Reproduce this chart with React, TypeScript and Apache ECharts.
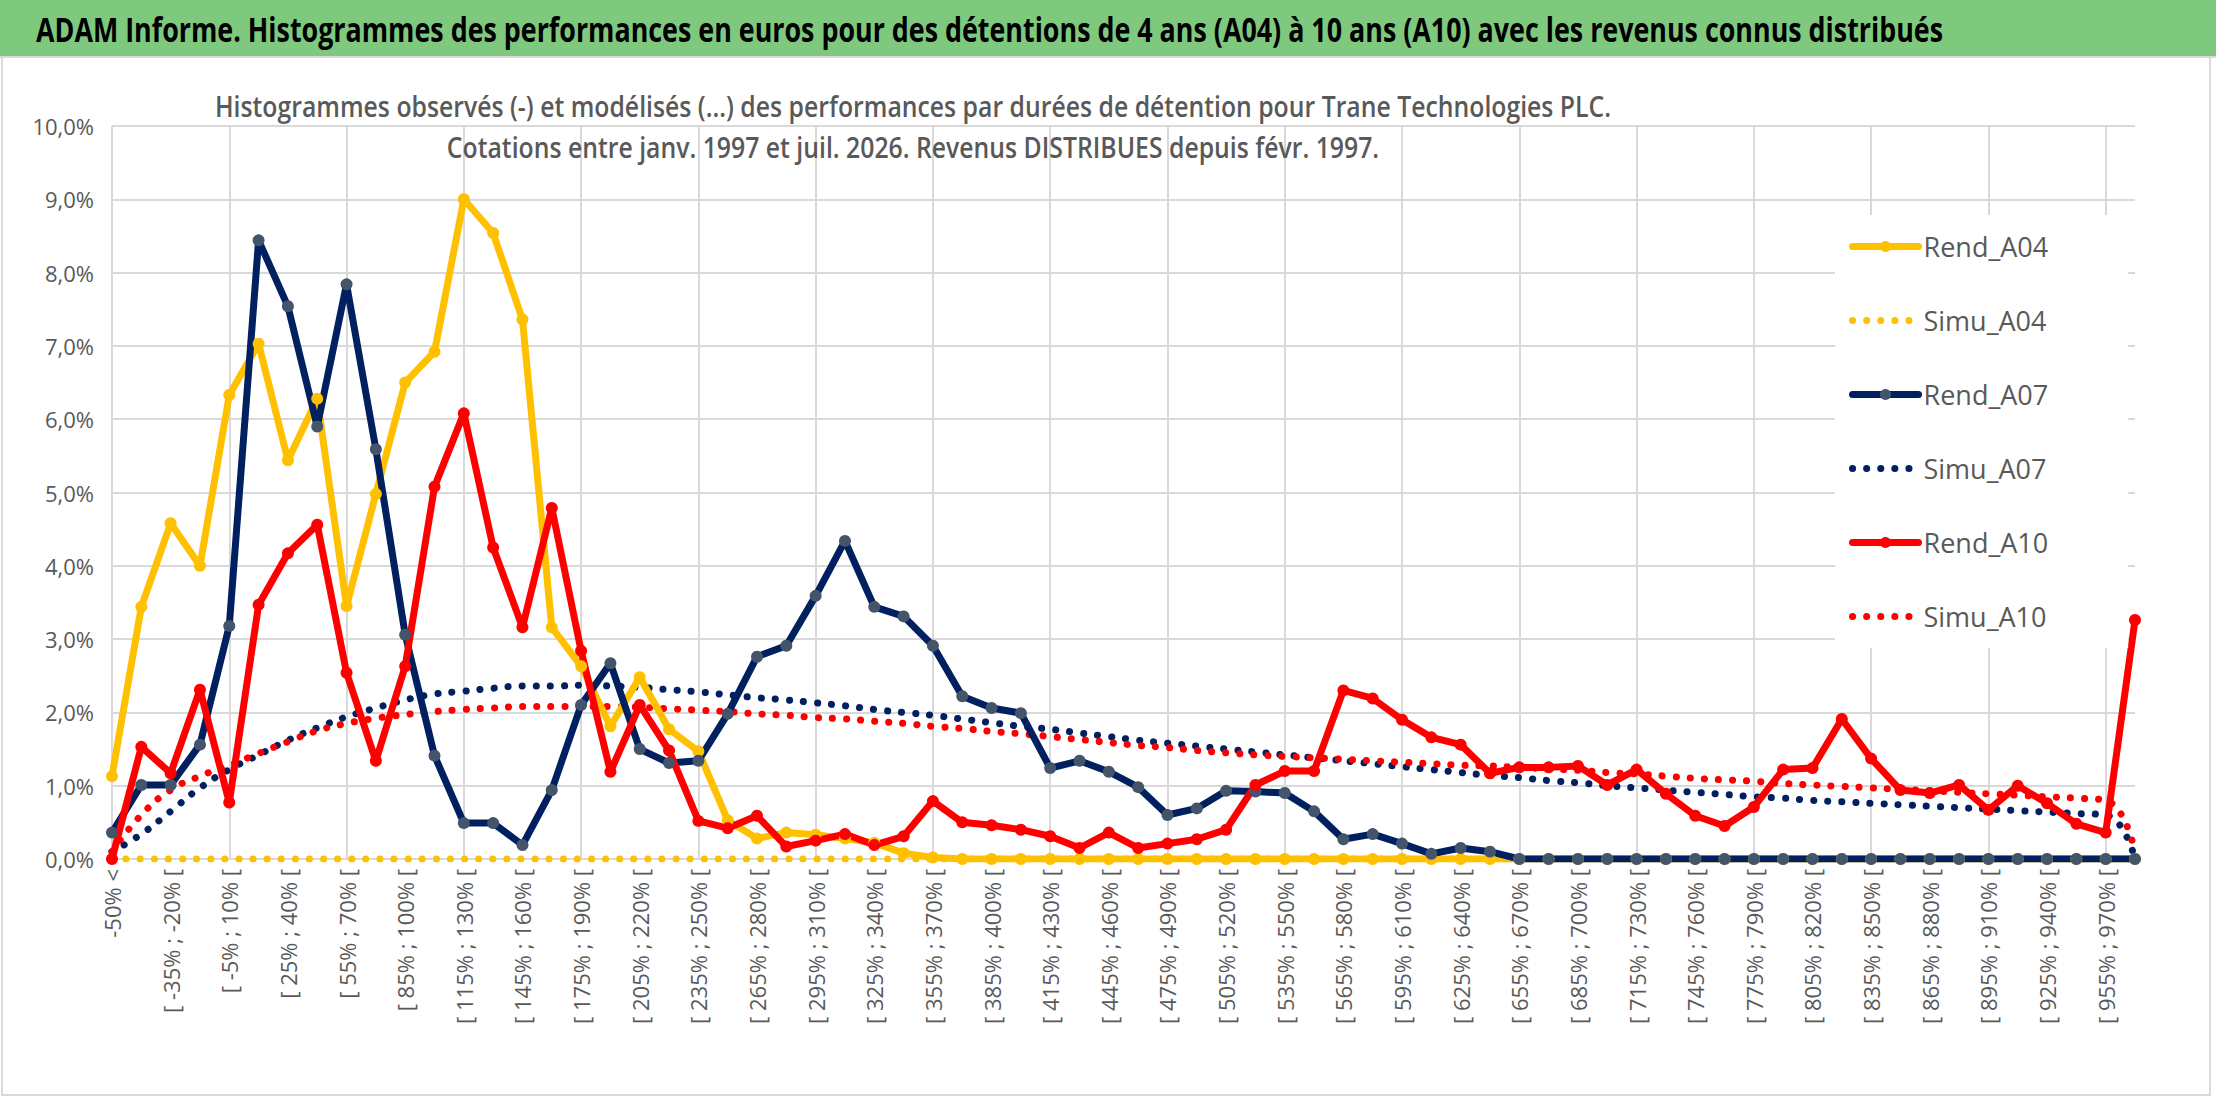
import React, { useEffect, useRef } from "react";
import * as echarts from "echarts";

const lowerBounds: number[] = [-50, -35, -20, -5, 10, 25, 40, 55, 70, 85, 100, 115, 130, 145, 160, 175, 190, 205, 220, 235, 250, 265, 280, 295, 310, 325, 340, 355, 370, 385, 400, 415, 430, 445, 460, 475, 490, 505, 520, 535, 550, 565, 580, 595, 610, 625, 640, 655, 670, 685, 700, 715, 730, 745, 760, 775, 790, 805, 820, 835, 850, 865, 880, 895, 910, 925, 940, 955, 970];
const categories: string[] = ["-50% <", ...lowerBounds.map((s) => `[ ${s}% ; ${s + 15}% [`)];

const rendA04 = [1.13, 3.44, 4.58, 4.0, 6.33, 7.03, 5.44, 6.28, 3.45, 4.98, 6.5, 6.92, 9.0, 8.54, 7.36, 3.16, 2.63, 1.81, 2.48, 1.77, 1.47, 0.53, 0.28, 0.36, 0.33, 0.28, 0.22, 0.08, 0.02,
  0, 0, 0, 0, 0, 0, 0, 0, 0, 0, 0, 0, 0, 0, 0, 0, 0, 0, 0, 0, 0, 0, 0, 0, 0, 0, 0, 0, 0, 0, 0, 0, 0, 0, 0, 0, 0, 0, 0, 0, 0];
const simuA04 = [0, 0, 0, 0, 0, 0, 0, 0, 0, 0, 0, 0, 0, 0, 0, 0, 0, 0, 0, 0, 0, 0, 0, 0, 0, 0, 0, 0, 0, 0, 0, 0, 0, 0, 0, 0, 0, 0, 0, 0, 0, 0, 0, 0, 0, 0, 0, 0, 0, 0, 0, 0, 0, 0, 0, 0, 0, 0, 0, 0, 0, 0, 0, 0, 0, 0, 0, 0, 0, 0];
const rendA07 = [0.36, 1.01, 1.01, 1.56, 3.18, 8.44, 7.54, 5.9, 7.84, 5.59, 3.06, 1.41, 0.49, 0.49, 0.19, 0.94, 2.1,
  2.67, 1.5, 1.31, 1.34, 1.98, 2.76, 2.91, 3.59, 4.34, 3.44, 3.31, 2.91, 2.22, 2.06, 1.99,
  1.24, 1.34, 1.19, 0.98, 0.6, 0.69, 0.93, 0.92, 0.9, 0.65, 0.27, 0.34, 0.21, 0.07, 0.15, 0.1,
  0, 0, 0, 0, 0, 0, 0, 0, 0, 0, 0, 0, 0, 0, 0, 0, 0, 0, 0, 0, 0, 0];
const simuA07 = [0.1, 0.34, 0.65, 0.97, 1.22, 1.42, 1.62, 1.79, 1.94, 2.06, 2.17, 2.25, 2.29, 2.33, 2.36, 2.36, 2.37, 2.36, 2.34, 2.31, 2.28, 2.24, 2.2, 2.17, 2.13, 2.09, 2.04, 2.0, 1.96, 1.91, 1.86, 1.81, 1.77, 1.72, 1.67, 1.62, 1.58, 1.54, 1.5, 1.46, 1.42, 1.38, 1.34, 1.3, 1.26, 1.22, 1.18, 1.14, 1.11, 1.07, 1.04, 1.0, 0.97, 0.94, 0.91, 0.88, 0.85, 0.83, 0.8, 0.78, 0.76, 0.74, 0.72, 0.7, 0.68, 0.66, 0.64, 0.62, 0.6, 0.0];
const rendA10 = [0, 1.53, 1.17, 2.31, 0.77, 3.47, 4.17, 4.56, 2.54, 1.34, 2.63, 5.08, 6.08, 4.25, 3.16, 4.79, 2.84,
  1.19, 2.1, 1.48, 0.52, 0.42, 0.59, 0.17, 0.25, 0.34, 0.19, 0.31, 0.79, 0.5, 0.46, 0.4,
  0.31, 0.15, 0.36, 0.15, 0.21, 0.27, 0.4, 1.01, 1.2, 1.2, 2.3, 2.19, 1.9, 1.66, 1.56, 1.17, 1.25, 1.25, 1.27,
  1.01, 1.22, 0.89, 0.59, 0.45, 0.71, 1.22, 1.24, 1.91, 1.37, 0.94, 0.9, 1.01, 0.67, 1.0, 0.76, 0.48, 0.36, 3.26];
const simuA10 = [0.1, 0.6, 0.94, 1.13, 1.28, 1.44, 1.6, 1.75, 1.85, 1.92, 1.97, 2.01, 2.04, 2.06, 2.08, 2.08, 2.08, 2.08, 2.07, 2.05, 2.03, 2.01, 1.98, 1.96, 1.93, 1.91, 1.88, 1.85, 1.81, 1.78, 1.74, 1.71, 1.67, 1.63, 1.59, 1.55, 1.52, 1.48, 1.45, 1.42, 1.4, 1.38, 1.36, 1.34, 1.32, 1.3, 1.28, 1.27, 1.25, 1.23, 1.21, 1.18, 1.16, 1.13, 1.1, 1.08, 1.06, 1.03, 1.01, 0.99, 0.97, 0.95, 0.93, 0.91, 0.89, 0.87, 0.85, 0.83, 0.8, 0.1];

const FONT = "'Open Sans', sans-serif";
const GRAY = "#595959";
const TITLE = "ADAM Informe. Histogrammes des performances en euros pour des détentions de 4 ans (A04) à 10 ans (A10) avec les revenus connus distribués";
const SUB1 = "Histogrammes observés (-) et modélisés (...) des performances par durées de détention pour Trane Technologies PLC.";
const SUB2 = "Cotations entre janv. 1997 et juil. 2026. Revenus DISTRIBUES depuis févr. 1997.";

function rend(name: string, data: number[], color: string, marker: string) {
  return {
    name, type: "line", data, symbol: "circle", symbolSize: 12,
    itemStyle: { color: marker, borderWidth: 0 },
    lineStyle: { color, width: 7, cap: "round", join: "round" },
    z: 3,
  };
}
function simu(name: string, data: number[], color: string) {
  return {
    name, type: "line", data, smooth: true, symbol: "none",
    itemStyle: { color },
    lineStyle: { color, width: 7, type: [0.1, 14], cap: "round" },
    z: 2,
  };
}

export default function App() {
  const ref = useRef<HTMLDivElement>(null);
  useEffect(() => {
    const chart = echarts.init(ref.current!, undefined, { renderer: "svg" });
    chart.setOption({
      animation: false,
      backgroundColor: "#fff",
      textStyle: { fontFamily: FONT },
      graphic: [
        { type: "rect", shape: { x: 0, y: 0, width: 2216, height: 56 }, style: { fill: "#7FC97F" }, z: 10 },
        { type: "line", shape: { x1: 0, y1: 57, x2: 2216, y2: 57 }, style: { stroke: "#d9d9d9", lineWidth: 2 }, z: 10 },
        { type: "rect", shape: { x: 2, y: 57, width: 2208, height: 1038 }, style: { fill: "none", stroke: "#d9d9d9", lineWidth: 2 }, z: 10 },
        { type: "text", x: 36, y: 29, scaleX: 0.79, style: { text: TITLE, fontFamily: FONT, fontSize: 34, fontWeight: "bold", fill: "#000", verticalAlign: "middle" }, z: 11 },
        { type: "text", x: 913, y: 106, scaleX: 0.855, style: { text: SUB1, fontFamily: FONT, fontSize: 29, fontWeight: 600, fill: GRAY, align: "center", verticalAlign: "middle" }, z: 11 },
        { type: "text", x: 913, y: 147, scaleX: 0.855, style: { text: SUB2, fontFamily: FONT, fontSize: 29, fontWeight: 600, fill: GRAY, align: "center", verticalAlign: "middle" }, z: 11 },
      ],
      legend: {
        orient: "vertical", left: 1835, top: 215, itemWidth: 66, itemHeight: 14, itemGap: 47,
        backgroundColor: "#fff", padding: [18, 80, 18, 14],
        lineStyle: { width: 7 },
        textStyle: { fontFamily: FONT, fontSize: 27, color: GRAY },
        data: [
          { name: "Rend_A04" }, { name: "Simu_A04", itemStyle: { opacity: 0 } },
          { name: "Rend_A07" }, { name: "Simu_A07", itemStyle: { opacity: 0 } },
          { name: "Rend_A10" }, { name: "Simu_A10", itemStyle: { opacity: 0 } },
        ],
      },
      grid: { left: 112, right: 81, top: 126, bottom: 243, containLabel: false },
      xAxis: {
        type: "category", data: categories, boundaryGap: false,
        axisLine: { lineStyle: { color: "#d9d9d9", width: 2 } },
        axisTick: { show: false },
        axisLabel: { interval: 1, rotate: 90, fontSize: 22, color: GRAY, fontFamily: FONT, margin: 10 },
        splitLine: { show: true, interval: (i: number) => i % 4 === 0, lineStyle: { color: "#d9d9d9", width: 2 } },
      },
      yAxis: {
        type: "value", min: 0, max: 10, interval: 1,
        axisLabel: { fontSize: 22, color: GRAY, fontFamily: FONT, margin: 18, formatter: (v: number) => v.toFixed(1).replace(".", ",") + "%" },
        splitLine: { lineStyle: { color: "#d9d9d9", width: 2 } },
        axisLine: { show: false }, axisTick: { show: false },
      },
      series: [
        rend("Rend_A04", rendA04, "#FFC000", "#FFC000"),
        simu("Simu_A04", simuA04, "#FFC000"),
        rend("Rend_A07", rendA07, "#002060", "#44546A"),
        simu("Simu_A07", simuA07, "#002060"),
        rend("Rend_A10", rendA10, "#FF0000", "#FF0000"),
        simu("Simu_A10", simuA10, "#FF0000"),
      ],
    });
    return () => chart.dispose();
  }, []);
  return <div ref={ref} style={{ position: "fixed", left: 0, top: 0, width: 2216, height: 1102 }} />;
}
